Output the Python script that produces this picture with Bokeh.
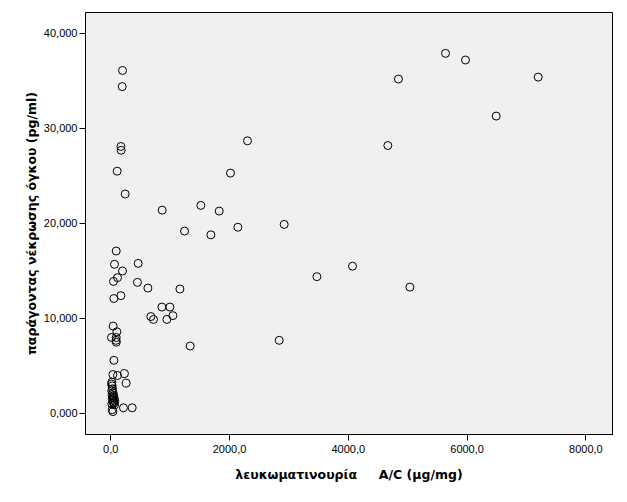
from bokeh.plotting import figure
from bokeh.models import FixedTicker, Range1d, ColumnDataSource
from bokeh.embed import file_html
from bokeh.resources import INLINE

# A/C (μg/mg)
ac = [199, 194, 172, 176, 109, 244, 867, 1243, 1518, 1687, 1827, 2017, 2141, 2303, 2921,
      5637, 5973, 4845, 7197, 6490, 4666, 3471, 4071, 5037,
      93, 64, 463, 199, 115, 47, 451, 626, 1165, 54, 172, 862, 997, 677, 721, 946, 1047,
      2837, 1338, 42, 104, 13, 93, 90, 95, 54,
      37, 115, 232, 261, 215, 362, 25, 37,
      20, 15, 25, 30, 18, 40, 22, 50, 35, 60, 28, 45, 70, 38, 55, 20, 65]
# TNF (pg/ml)
tnf = [36.1, 34.4, 28.1, 27.7, 25.5, 23.1, 21.4, 19.2, 21.9, 18.8, 21.3, 25.3, 19.6, 28.7, 19.9,
       37.9, 37.2, 35.2, 35.4, 31.3, 28.2, 14.4, 15.5, 13.3,
       17.1, 15.7, 15.8, 15.0, 14.3, 13.9, 13.8, 13.2, 13.1, 12.1, 12.4, 11.2, 11.2, 10.2, 9.9, 9.9, 10.3,
       7.7, 7.1, 9.2, 8.6, 8.0, 8.0, 7.7, 7.5, 5.6,
       4.1, 4.0, 4.2, 3.2, 0.6, 0.6, 0.4, 0.2,
       3.3, 3.1, 2.9, 2.6, 2.4, 2.2, 2.0, 1.9, 1.7, 1.6, 1.5, 1.4, 1.3, 1.2, 1.1, 1.0, 0.9]

x_ticks = [0, 2000, 4000, 6000, 8000]
x_tick_labels = ["0,0", "2000,0", "4000,0", "6000,0", "8000,0"]
y_ticks = [0, 10, 20, 30, 40]
y_tick_labels = ["0,000", "10,000", "20,000", "30,000", "40,000"]

x_title = "λευκωματινουρία\u00a0\u00a0\u00a0\u00a0\u00a0A/C (μg/mg)"
y_title = "παράγοντας νέκρωσης όγκου (pg/ml)"

p = figure(width=627, height=502, output_backend="svg", toolbar_location=None,
           x_range=Range1d(-424, 8448), y_range=Range1d(-2.21, 42.2),
           min_border_left=85, min_border_right=15, min_border_top=12, min_border_bottom=68)

p.background_fill_color = "#F0F0F0"
p.border_fill_color = "white"
p.outline_line_color = "black"
p.outline_line_width = 1
p.xgrid.visible = False
p.ygrid.visible = False

src = ColumnDataSource(dict(x=ac, y=tnf))
p.scatter("x", "y", source=src, marker="circle", size=8, fill_alpha=0,
          line_color="black", line_width=1)

p.xaxis.ticker = FixedTicker(ticks=x_ticks)
p.xaxis.major_label_overrides = dict(zip(x_ticks, x_tick_labels))
p.yaxis.ticker = FixedTicker(ticks=y_ticks)
p.yaxis.major_label_overrides = dict(zip(y_ticks, y_tick_labels))

for ax in (p.xaxis, p.yaxis):
    ax.minor_tick_line_color = None
    ax.major_tick_in = 0
    ax.major_tick_out = 6
    ax.major_tick_line_color = "black"
    ax.axis_line_color = "black"
    ax.major_label_text_font = "Liberation Sans"
    ax.major_label_text_font_size = "11px"
    ax.major_label_text_color = "black"
    ax.axis_label_text_font = "DejaVu Sans"
    ax.axis_label_text_font_style = "bold"
    ax.axis_label_text_font_size = "12.5px"
    ax.axis_label_text_color = "black"

p.xaxis.axis_label = x_title
p.yaxis.axis_label = y_title
p.xaxis.major_label_standoff = 4
p.yaxis.major_label_standoff = 2
p.xaxis.axis_label_standoff = 11
p.yaxis.axis_label_standoff = 2

open("out.html", "w").write(file_html(p, INLINE))
